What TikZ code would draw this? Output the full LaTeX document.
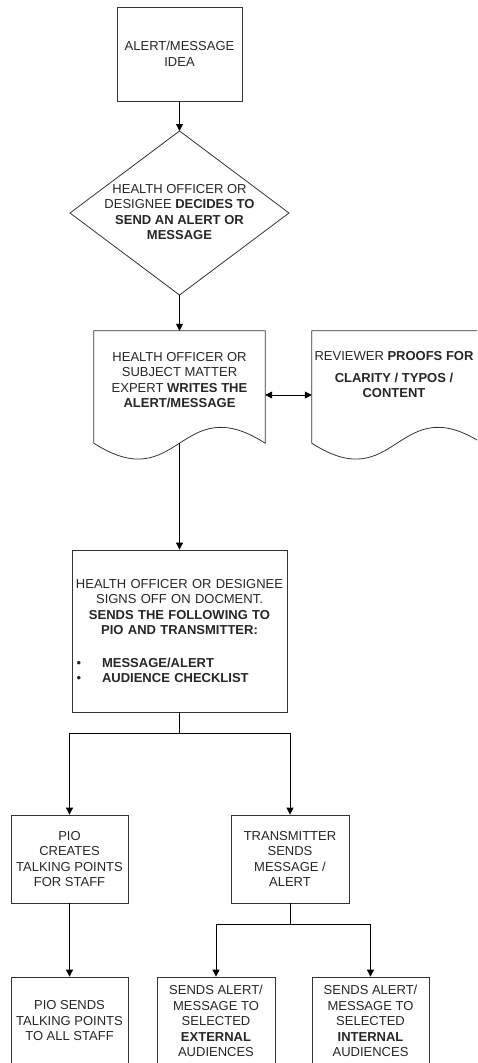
\documentclass[tikz,border=0pt]{standalone}
\usepackage{fontspec}
\setmainfont{Liberation Sans}
\usetikzlibrary{shapes.geometric,arrows.meta}
\tikzset{
  base/.style={font=\fontsize{13}{15.5}\selectfont, text=black!85, align=center},
  box/.style={base, draw=black!80, line width=0.8pt, rectangle, inner sep=2pt},
  shapeline/.style={draw=black!80, line width=0.8pt},
  arr/.style={-{Triangle[length=7pt,width=7pt]}, line width=0.8pt, draw=black},
  darr/.style={{Triangle[length=7pt,width=7pt]}-{Triangle[length=7pt,width=7pt]}, line width=0.8pt, draw=black},
  ghost/.style={inner sep=0pt, draw=none, rectangle}
}
\begin{document}
\begin{tikzpicture}[x=1pt,y=-1pt]
\useasboundingbox (0,0) rectangle (477,1063);
\clip (0,0) rectangle (477,1063);

% idea
\node[box, minimum width=125pt, minimum height=94pt] (idea) at (179.5,54) {ALERT/MESSAGE\\IDEA};

% decision diamond
\coordinate (dtop) at (179.5,131);
\coordinate (dright) at (289,213);
\coordinate (dbot) at (179.5,295);
\coordinate (dleft) at (70,213);
\draw[shapeline] (dtop) -- (dright) -- (dbot) -- (dleft) -- cycle;
\node[base] (decide) at (179.5,212) {HEALTH OFFICER OR\\DESIGNEE \textbf{DECIDES TO}\\\textbf{SEND AN ALERT OR}\\\textbf{MESSAGE}};

% document: writes
\node[ghost, minimum width=171pt, minimum height=112pt] (write) at (179.5,387) {};
\draw[shapeline] (write.north west) -- (write.south west)
  .. controls ([yshift=-55pt]write.south) and ([yshift=55pt]write.south) .. (write.south east)
  -- (write.north east) -- cycle;
\node[base] (writet) at (179.5,380) {HEALTH OFFICER OR\\SUBJECT MATTER\\EXPERT \textbf{WRITES THE}\\\textbf{ALERT/MESSAGE}};

% document: reviewer
\node[ghost, minimum width=170pt, minimum height=112pt] (review) at (397,387) {};
\draw[shapeline] (review.north west) -- (review.south west)
  .. controls ([yshift=-55pt]review.south) and ([yshift=55pt]review.south) .. (review.south east)
  -- (review.north east) -- cycle;
\node[base] (reviewt) at (394,375) {REVIEWER \textbf{PROOFS FOR}\\[6pt]\textbf{CLARITY / TYPOS /}\\\textbf{CONTENT}};

\draw[darr] ([yshift=-8pt]write.east) -- ([yshift=-8pt]review.west);

% sign off
\node[box, minimum width=215pt, minimum height=162pt, text width=212pt, inner sep=0pt] (signoff) at (179.5,631)
 {HEALTH OFFICER OR DESIGNEE\\
  SIGNS OFF ON DOCMENT.\\
  \textbf{SENDS THE FOLLOWING TO}\\
  \textbf{PIO AND TRANSMITTER:}\\[17pt]
  \makebox[212pt][l]{\hspace{3pt}\textbullet\hspace{21pt}\textbf{MESSAGE/ALERT}}\\
  \makebox[212pt][l]{\hspace{3pt}\textbullet\hspace{21pt}\textbf{AUDIENCE CHECKLIST}}};

% second level
\node[box, minimum width=117pt, minimum height=88pt] (pio) at (69.5,859) {PIO\\CREATES\\TALKING POINTS\\FOR STAFF};
\node[box, minimum width=118pt, minimum height=88pt] (trans) at (290,859) {TRANSMITTER\\SENDS\\MESSAGE /\\ALERT};

% third level
\node[box, minimum width=117pt, minimum height=88pt] (pio2) at (69.5,1021) {PIO SENDS\\TALKING POINTS\\TO ALL STAFF};
\node[box, minimum width=118pt, minimum height=88pt] (ext) at (216,1021) {SENDS ALERT/\\MESSAGE TO\\SELECTED\\\textbf{EXTERNAL}\\AUDIENCES};
\node[box, minimum width=117pt, minimum height=88pt] (int) at (370.5,1021) {SENDS ALERT/\\MESSAGE TO\\SELECTED\\\textbf{INTERNAL}\\AUDIENCES};

% connectors
\draw[arr] (idea.south) -- (dtop);
\draw[arr] (dbot) -- (write.north);
\draw[arr] (write.south) -- (signoff.north);
\draw[arr] (signoff.south) -- ++(0,21) -| (pio.north);
\draw[arr] (signoff.south) -- ++(0,21) -| (trans.north);
\draw[arr] (pio.south) -- (pio2.north);
\draw[arr] (trans.south) -- ++(0,21) -| (ext.north);
\draw[arr] (trans.south) -- ++(0,21) -| (int.north);
\end{tikzpicture}
\end{document}
